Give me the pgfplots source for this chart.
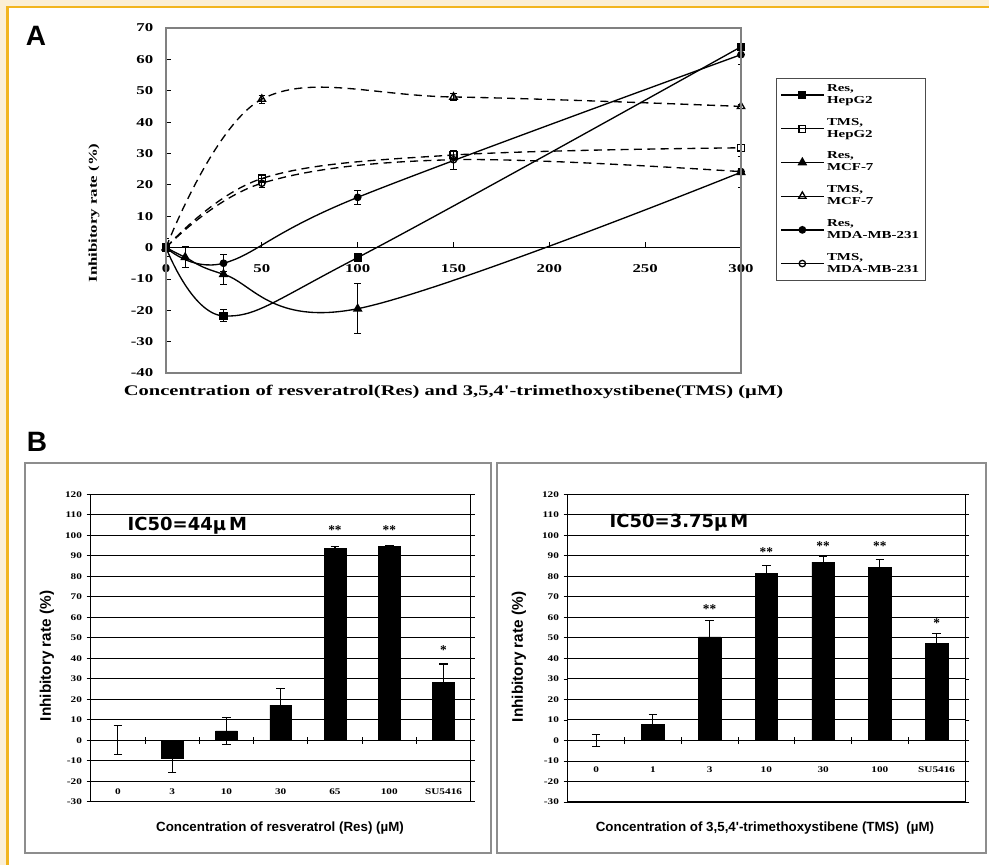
\documentclass[border=0pt]{standalone}
\usepackage{fontspec}
\setmainfont{Liberation Serif}
\setsansfont{Liberation Sans}
\newfontfamily\SA[FakeStretch=1.4]{Liberation Serif}
\newfontfamily\SN[FakeStretch=1.3]{Liberation Serif}
\newfontfamily\SB{Liberation Sans}
\newfontfamily\SD{DejaVu Sans}
\usepackage{pgfplots}
\pgfplotsset{compat=1.18}
\definecolor{cream}{HTML}{FBEFD5}
\definecolor{bord}{HTML}{F2B51E}
\definecolor{frame}{HTML}{808080}
\begin{document}
\begin{tikzpicture}[x=0.75pt,y=0.75pt]
\path[use as bounding box, fill=white] (0,0) rectangle (989,865);
\fill[cream] (0,859) rectangle (989,865);
\fill[cream] (0,0) rectangle (6,865);
\fill[bord] (6,856.5) rectangle (989,859);
\fill[bord] (6,0) rectangle (8.5,859);

% ---------------- Panel A ----------------
\node[font=\sffamily\bfseries\fontsize{21}{21}\selectfont] at (36,829) {A};
\begin{axis}[
  at={(124.5pt,369pt)}, anchor=south west, scale only axis,
  width=431.25pt, height=258.75pt,
  xmin=0, xmax=300, ymin=-40, ymax=70,
  axis x line=middle, axis y line=left,
  axis line style={-},
  x axis line style={black, line width=0.8pt},
  y axis line style={frame, line width=1pt},
  hide obscured x ticks=false, hide obscured y ticks=false,
  xtick={0,50,...,300}, ytick={-40,-30,...,70},
  tick align=inside, major tick length=4pt,
  tick style={black, line width=0.6pt},
  /pgf/number format/assume math mode=true,
  tick label style={font=\SA\bfseries\fontsize{9}{10}\selectfont},
  xticklabel style={yshift=-9pt},
  yticklabel style={xshift=-6pt},
  legend style={at={(1.061,0.856)}, anchor=north west, draw=black!70,
    font=\SA\bfseries\fontsize{8}{9}\selectfont, cells={align=left},
    row sep=5.5pt, inner sep=3pt},
  legend cell align=left,
  legend image code/.code={\draw[mark repeat=2,mark phase=2,#1] plot coordinates {(0pt,0pt) (16pt,0pt) (32pt,0pt)};},
  legend image post style={solid},
  every axis plot/.append style={black, line width=1pt, smooth, tension=0.6},
  error bars/error bar style={black, line width=0.7pt, solid},
  error bars/error mark options={rotate=90, black, mark size=2.5pt, line width=0.7pt, solid},
  after end axis/.code={\draw[frame, line width=1pt] (rel axis cs:0,0) rectangle (rel axis cs:1,1);},
]
% Res, HepG2
\addplot[mark=square*, mark size=2.6pt, mark options={solid, fill=black},
  error bars/.cd, y dir=both, y explicit]
  coordinates {(0,0) +- (0,3) (30,-21.8) +- (0,1.9) (100,-3.2) +- (0,1) (300,64) +- (0,1)};
\addlegendentry{Res,\\HepG2}
% TMS, HepG2
\addplot[dashed, dash pattern=on 6pt off 4pt, mark=square, mark size=2.6pt, mark options={solid, fill=white},
  error bars/.cd, y dir=both, y explicit]
  coordinates {(0,0) +- (0,1) (50,22) +- (0,1) (150,29.5) +- (0,1.5) (300,31.8) +- (0,1)};
\addlegendentry{TMS,\\HepG2}
% Res, MCF-7
\addplot[mark=triangle*, mark size=3.2pt, mark options={solid, fill=black},
  error bars/.cd, y dir=both, y explicit]
  coordinates {(0,0) +- (0,1) (10,-3.1) +- (0,3.3) (30,-8.5) +- (0,3.2) (100,-19.5) +- (0,8) (300,24) +- (0,5)};
\addlegendentry{Res,\\MCF-7}
% TMS, MCF-7
\addplot[dashed, dash pattern=on 6pt off 4pt, mark=triangle, mark size=3.2pt, mark options={solid, fill=white},
  error bars/.cd, y dir=both, y explicit]
  coordinates {(0,0) +- (0,1) (50,47.3) +- (0,1.3) (150,48) +- (0,1) (300,45) +- (0,0.5)};
\addlegendentry{TMS,\\MCF-7}
% Res, MDA-MB-231
\addplot[mark=*, mark size=2.4pt, mark options={solid, fill=black},
  error bars/.cd, y dir=both, y explicit]
  coordinates {(0,0) +- (0,1) (30,-5) +- (0,2.7) (100,16) +- (0,2.3) (300,61.5) +- (0,3)};
\addlegendentry{Res,\\MDA-MB-231}
% TMS, MDA-MB-231
\addplot[dashed, dash pattern=on 6pt off 4pt, mark=o, mark size=2.4pt, mark options={solid, fill=white},
  error bars/.cd, y dir=both, y explicit]
  coordinates {(0,0) +- (0,1) (50,20.5) +- (0,1.5) (150,28) +- (0,3) (300,24.2) +- (0,1)};
\addlegendentry{TMS,\\MDA-MB-231}
\end{axis}
\node[font=\SA\bfseries\fontsize{11}{13}\selectfont] at (453.5,473) {Concentration of resveratrol(Res) and 3,5,4'-trimethoxystibene(TMS) (µM)};
\node[rotate=90, font=\SA\bfseries\fontsize{9}{11}\selectfont] at (94,652) {Inhibitory rate (\%)};

% ---------------- Panel B ----------------
\node[font=\sffamily\bfseries\fontsize{21}{21}\selectfont] at (37,423) {B};
\draw[frame!90, line width=1.5pt] (25,12) rectangle (490.7,402.3);
\draw[frame!90, line width=1.5pt] (497,12) rectangle (986,402);

\pgfplotsset{
  bstyle/.style={
    anchor=south west, scale only axis,
    xmin=0, xmax=7, ymin=-30, ymax=120,
    ytick={-30,-20,...,120}, ymajorgrids,
    grid style={black, line width=0.7pt},
    axis line style={black, line width=0.8pt},
    xtick={0.5,1.5,...,6.5},
    x tick style={draw=none},
    ytick align=outside, major tick length=3pt,
    y tick style={black, line width=0.6pt},
    /pgf/number format/assume math mode=true,
    tick label style={font=\SN\bfseries\fontsize{6.5}{7}\selectfont},
    xticklabel style={anchor=center},
  },
  bbar/.style={ybar, bar width=0.4, fill=black, draw=black,
    error bars/.cd, y dir=both, y explicit,
    error bar style={black, line width=0.8pt},
    error mark options={rotate=90, black, mark size=3.2pt, line width=0.8pt}},
}

\begin{axis}[bstyle, at={(68.03pt,47.48pt)}, width=285pt, height=230.5pt,
  xticklabels={0,3,10,30,65,100,SU5416},
  xticklabel style={yshift=7.7pt}]
\addplot[bbar] coordinates {(0.5,0) +- (0,7) (1.5,-8.6) +- (0,7) (2.5,4.6) +- (0,6.7) (3.5,17.1) +- (0,8.1) (4.5,93.6) +- (0,1) (5.5,94.5) +- (0,0.6) (6.5,28.2) +- (0,9)};
\pgfplotsinvokeforeach{1,...,6}{\draw[black, line width=0.7pt] (axis cs:#1,-1.8) -- (axis cs:#1,1.8);}
\node[font=\bfseries\fontsize{10}{10}\selectfont] at (axis cs:4.5,102.5) {**};
\node[font=\bfseries\fontsize{10}{10}\selectfont] at (axis cs:5.5,102.5) {**};
\node[font=\bfseries\fontsize{10}{10}\selectfont] at (axis cs:6.5,44) {*};
\end{axis}
\node[font=\SD\bfseries\fontsize{13.5}{13.5}\selectfont, anchor=west] at (123,339) {IC50=44µ\,M};
\node[font=\SB\bfseries\fontsize{10}{12}\selectfont] at (280,37) {Concentration of resveratrol (Res) (µM)};
\node[rotate=90, font=\SB\bfseries\fontsize{11.5}{13}\selectfont] at (47,209) {Inhibitory rate (\%)};

\begin{axis}[bstyle, at={(425.78pt,47.25pt)}, width=298pt, height=230.8pt,
  xticklabels={0,1,3,10,30,100,SU5416},
  xticklabel style={yshift=24pt}]
\addplot[bbar] coordinates {(0.5,0) +- (0,3) (1.5,7.8) +- (0,5) (2.5,50.5) +- (0,8) (3.5,81.3) +- (0,4) (4.5,86.9) +- (0,3) (5.5,84.4) +- (0,4) (6.5,47.2) +- (0,5)};
\pgfplotsinvokeforeach{1,...,6}{\draw[black, line width=0.7pt] (axis cs:#1,-1.8) -- (axis cs:#1,1.8);}
\node[font=\bfseries\fontsize{10}{10}\selectfont] at (axis cs:2.5,64) {**};
\node[font=\bfseries\fontsize{10}{10}\selectfont] at (axis cs:3.5,92) {**};
\node[font=\bfseries\fontsize{10}{10}\selectfont] at (axis cs:4.5,94.5) {**};
\node[font=\bfseries\fontsize{10}{10}\selectfont] at (axis cs:5.5,94.5) {**};
\node[font=\bfseries\fontsize{10}{10}\selectfont] at (axis cs:6.5,57) {*};
\end{axis}
\node[font=\SD\bfseries\fontsize{13.5}{13.5}\selectfont, anchor=west] at (605,342) {IC50=3.75µ\,M};
\node[font=\SB\bfseries\fontsize{10}{12}\selectfont] at (765,37) {Concentration of 3,5,4'-trimethoxystibene (TMS)\ \ (µM)};
\node[rotate=90, font=\SB\bfseries\fontsize{11.5}{13}\selectfont] at (519,208) {Inhibitory rate (\%)};
\end{tikzpicture}
\end{document}
